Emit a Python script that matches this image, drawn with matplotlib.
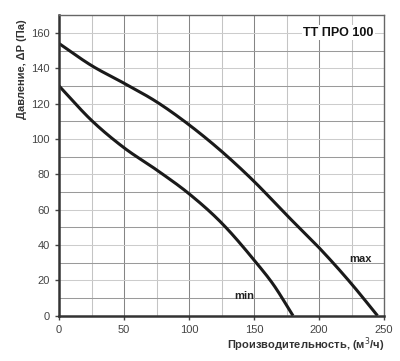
import numpy as np
import matplotlib.pyplot as plt

plt.rcParams['font.family'] = ['Liberation Sans', 'DejaVu Sans']

# кривые вентилятора (чтение с графика)
q_max = [0, 25, 50, 75, 100, 125, 150, 175, 200, 225, 245]
p_max = [154, 141.5, 131.5, 121, 108, 93, 76, 57, 38.5, 18, 0]

q_min = [0, 25, 50, 75, 100, 125, 150, 165, 180]
p_min = [130, 110.5, 95, 82.5, 69, 52.5, 31.5, 17.5, 0]

x_ticks = [0, 50, 100, 150, 200, 250]
y_ticks = [0, 20, 40, 60, 80, 100, 120, 140, 160]


def smooth(x, y):
    # кубический эрмитов сплайн по x (шаг может быть неравномерным)
    x = np.asarray(x, float)
    y = np.asarray(y, float)
    h = np.diff(x)
    d = np.diff(y) / h
    m = np.empty_like(y)
    m[0], m[-1] = d[0], d[-1]
    m[1:-1] = (h[1:] * d[:-1] + h[:-1] * d[1:]) / (h[:-1] + h[1:])
    xs, ys = [], []
    for i in range(len(h)):
        t = np.linspace(0, 1, 40)
        h00 = 2 * t**3 - 3 * t**2 + 1
        h10 = t**3 - 2 * t**2 + t
        h01 = -2 * t**3 + 3 * t**2
        h11 = t**3 - t**2
        xs.append(x[i] + t * h[i])
        ys.append(h00 * y[i] + h10 * h[i] * m[i] + h01 * y[i + 1] + h11 * h[i] * m[i + 1])
    return np.concatenate(xs), np.concatenate(ys)


fig = plt.figure(figsize=(4, 3.61), dpi=100)
ax = fig.add_axes([0.1475, 0.1255, 0.8125, 0.8325])

for xv in np.arange(25, 250, 25):
    ax.axvline(xv, color='#858585' if xv % 50 == 0 else '#c4c4c4', lw=0.75, zorder=0)
for yv in np.arange(10, 170, 10):
    ax.axhline(yv, color='#9a9a9a' if yv % 20 else '#cccccc', lw=0.75, zorder=0)

ax.plot(*smooth(q_max, p_max), color='#1a1a1a', lw=2.2, solid_capstyle='butt')
ax.plot(*smooth(q_min, p_min), color='#1a1a1a', lw=2.2, solid_capstyle='butt')

ax.text(223, 29, 'max', fontsize=8, fontweight='bold', color='#222222', va='bottom')
ax.text(150, 8.5, 'min', fontsize=8, fontweight='bold', color='#222222', va='bottom', ha='right')
ax.text(242, 160, 'ТТ ПРО 100', fontsize=9, fontweight='bold', color='#111111', ha='right', va='center',
        bbox=dict(facecolor='white', edgecolor='none', pad=1))

ax.set_xlim(0, 250)
ax.set_ylim(0, 170)
ax.set_xticks(x_ticks)
ax.set_yticks(y_ticks)
ax.tick_params(labelsize=8, colors='#444444', length=3, width=1, direction='out')

for s in ['top', 'right']:
    ax.spines[s].set_color('#666666')
    ax.spines[s].set_linewidth(1)
for s in ['left', 'bottom']:
    ax.spines[s].set_color('#333333')
    ax.spines[s].set_linewidth(1.8)

ax.set_xlabel('Производительность, (м$^3$/ч)', fontsize=8, fontweight='bold', color='#333333')
ax.xaxis.set_label_coords(1.0, -0.065)
ax.xaxis.label.set_ha('right')
ax.set_ylabel('Давление, ΔР (Па)', fontsize=8, fontweight='bold', color='#333333')
ax.yaxis.set_label_coords(-0.097, 0.82)

fig.savefig('out.png', dpi=100, facecolor='white')
